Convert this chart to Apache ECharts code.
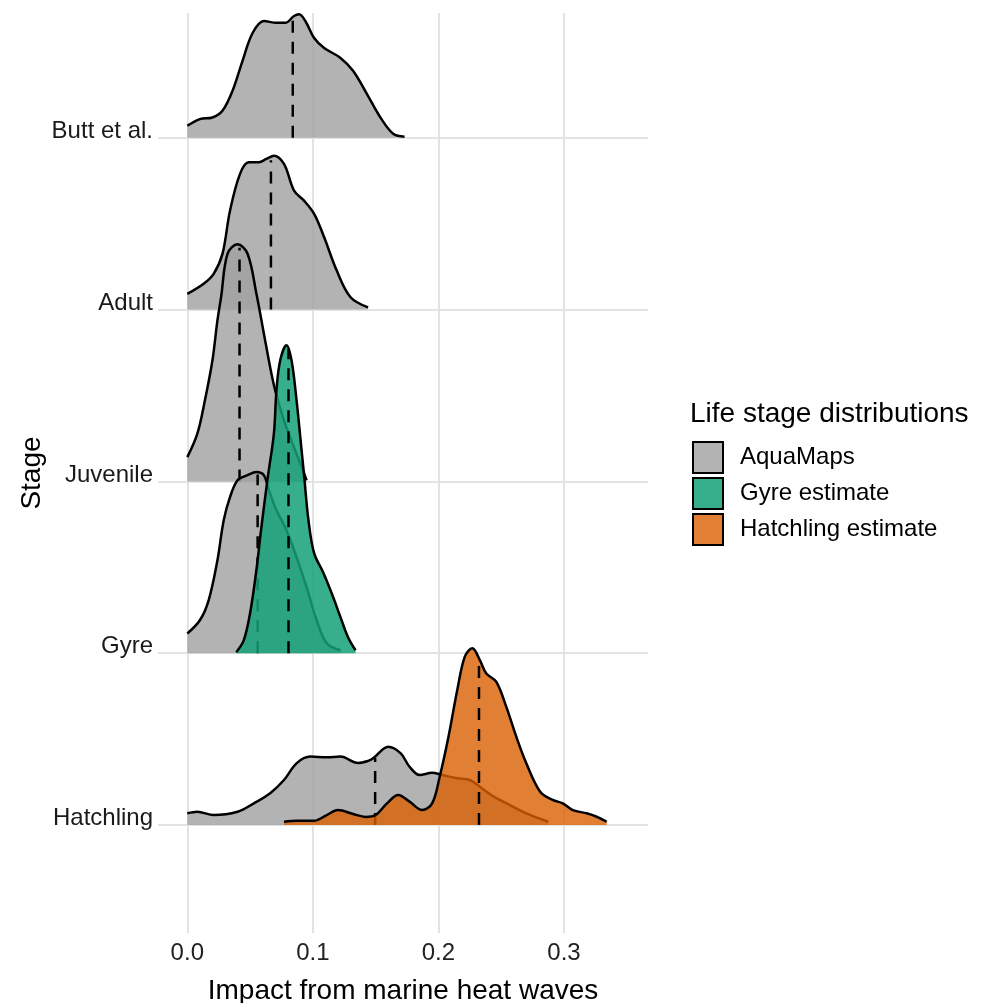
<!DOCTYPE html>
<html><head><meta charset="utf-8">
<script src="https://cdn.jsdelivr.net/npm/echarts@6/dist/echarts.min.js"></script>
<style>html,body{margin:0;padding:0;background:#fff}#c{width:988px;height:1003px}</style>
</head><body><div id="c"></div><script>
// rows (value positions 1..5 on the y axis)
const stages = ['Hatchling', 'Gyre', 'Juvenile', 'Adult', 'Butt et al.'];
const xTicks = [0, 0.1, 0.2, 0.3];
const groups = ['AquaMaps', 'Gyre estimate', 'Hatchling estimate'];

// density heights (in row units)
const buttX = [0, 0.010, 0.020, 0.028, 0.036, 0.044, 0.052, 0.061, 0.071, 0.078, 0.085, 0.089, 0.094, 0.101, 0.109, 0.122, 0.132, 0.143, 0.154, 0.164, 0.173];
const buttH = [0.070, 0.109, 0.118, 0.157, 0.273, 0.448, 0.610, 0.680, 0.669, 0.669, 0.709, 0.719, 0.680, 0.581, 0.523, 0.465, 0.390, 0.256, 0.116, 0.023, 0.006];

const adultX = [0, 0.013, 0.021, 0.028, 0.034, 0.042, 0.049, 0.057, 0.063, 0.069, 0.077, 0.085, 0.093, 0.101, 0.109, 0.119, 0.130, 0.144];
const adultH = [0.091, 0.150, 0.208, 0.324, 0.576, 0.790, 0.857, 0.857, 0.877, 0.896, 0.848, 0.693, 0.634, 0.557, 0.421, 0.227, 0.072, 0.013];

const juvX = [0, 0.008, 0.014, 0.020, 0.024, 0.027, 0.032, 0.040, 0.048, 0.055, 0.061, 0.066, 0.070, 0.077, 0.085, 0.093, 0.095];
const juvH = [0.141, 0.278, 0.471, 0.704, 0.937, 1.077, 1.325, 1.380, 1.325, 1.094, 0.860, 0.664, 0.530, 0.355, 0.198, 0.047, 0.006];

const gyreAqX = [0, 0.010, 0.017, 0.024, 0.029, 0.034, 0.040, 0.048, 0.055, 0.061, 0.065, 0.071, 0.079, 0.087, 0.095, 0.103, 0.111, 0.122];
const gyreAqH = [0.115, 0.192, 0.308, 0.541, 0.774, 0.908, 1.007, 1.036, 1.054, 1.036, 0.949, 0.832, 0.716, 0.559, 0.384, 0.192, 0.058, 0.017];

const gyreEstX = [0.039, 0.045, 0.050, 0.055, 0.059, 0.064, 0.069, 0.071, 0.074, 0.079, 0.083, 0.087, 0.091, 0.093, 0.0965, 0.101, 0.1085, 0.115, 0.122, 0.128, 0.134];
const gyreEstH = [0.006, 0.076, 0.233, 0.483, 0.733, 1.019, 1.281, 1.531, 1.705, 1.793, 1.705, 1.473, 1.182, 1.036, 0.774, 0.582, 0.466, 0.349, 0.210, 0.093, 0.017];

const hatchAqX = [0, 0.008, 0.021, 0.040, 0.053, 0.066, 0.077, 0.087, 0.098, 0.111, 0.122, 0.136, 0.144, 0.148, 0.160, 0.170, 0.177, 0.185, 0.195, 0.203, 0.215, 0.225, 0.233, 0.244, 0.257, 0.270, 0.2875];
const hatchAqH = [0.068, 0.077, 0.058, 0.077, 0.126, 0.185, 0.262, 0.359, 0.398, 0.394, 0.398, 0.361, 0.373, 0.388, 0.456, 0.417, 0.339, 0.291, 0.304, 0.291, 0.272, 0.262, 0.223, 0.165, 0.116, 0.068, 0.019];

const hatchEstX = [0.077, 0.087, 0.101, 0.111, 0.120, 0.132, 0.142, 0.150, 0.159, 0.168, 0.177, 0.187, 0.195, 0.201, 0.208, 0.215, 0.221, 0.227, 0.233, 0.238, 0.246, 0.254, 0.262, 0.270, 0.281, 0.291, 0.299, 0.307, 0.318, 0.326, 0.334];
const hatchEstH = [0.019, 0.025, 0.025, 0.058, 0.087, 0.064, 0.047, 0.058, 0.126, 0.175, 0.136, 0.087, 0.126, 0.281, 0.514, 0.786, 0.980, 1.029, 0.960, 0.883, 0.834, 0.689, 0.514, 0.359, 0.194, 0.146, 0.126, 0.087, 0.068, 0.048, 0.019];

// medians (dashed quantile lines): x position and curve height there
const medianX = [0.084, 0.0666, 0.0416, 0.056, 0.0806, 0.1496, 0.2323];
const medianH = [0.71, 0.87, 1.36, 1.04, 1.77, 0.39, 0.96];

const fills = {
  'AquaMaps': 'rgba(160,160,160,0.8)',
  'Gyre estimate': 'rgba(20,160,120,0.85)',
  'Hatchling estimate': 'rgba(217,95,2,0.8)'
};

const ridges = [
  { group: 'AquaMaps', row: 5, xs: buttX, hs: buttH },
  { group: 'AquaMaps', row: 4, xs: adultX, hs: adultH },
  { group: 'AquaMaps', row: 3, xs: juvX, hs: juvH },
  { group: 'AquaMaps', row: 2, xs: gyreAqX, hs: gyreAqH },
  { group: 'Gyre estimate', row: 2, xs: gyreEstX, hs: gyreEstH },
  { group: 'AquaMaps', row: 1, xs: hatchAqX, hs: hatchAqH },
  { group: 'Hatchling estimate', row: 1, xs: hatchEstX, hs: hatchEstH }
];

const FONT = '"Liberation Sans", Arial, Helvetica, sans-serif';
const series = [];
ridges.forEach((r, i) => {
  series.push({
    type: 'line', name: r.group, z: 10 + 2 * i, silent: true,
    data: r.xs.map((x, k) => [x, r.row + r.hs[k]]),
    smooth: 0.35, symbol: 'none', showSymbol: false,
    lineStyle: { color: '#000', width: 2.5 },
    itemStyle: { color: fills[r.group] },
    areaStyle: { color: fills[r.group], opacity: 1, origin: r.row },
    emphasis: { disabled: true }
  });
  series.push({
    type: 'line', name: 'median-' + i, z: 11 + 2 * i, silent: true,
    data: [[medianX[i], r.row], [medianX[i], r.row + medianH[i]]],
    symbol: 'none', showSymbol: false,
    lineStyle: { color: '#000', width: 2.5, type: [12, 9] },
    emphasis: { disabled: true }
  });
});

// plot area geometry derived from tick spacing
const gridLeft = 158, gridRight = 648, tickPx0 = 187.3, tickPx3 = 564;
const k = (tickPx3 - tickPx0) / 0.3;
const xMin = -(tickPx0 - gridLeft) / k;
const xMax = 0.3 + (gridRight - tickPx3) / k;
const gridTop = 13, gridBottom = 933, row5Px = 137.8, row1Px = 825;
const ky = (row1Px - row5Px) / 4;
const yMin = 1 - (gridBottom - row1Px) / ky;
const yMax = 5 + (row5Px - gridTop) / ky;

const chart = echarts.init(document.getElementById('c'), null, { renderer: 'canvas' });
chart.setOption({
  animation: false,
  backgroundColor: '#fff',
  textStyle: { fontFamily: FONT },
  title: {
    text: 'Life stage distributions', left: 690, top: 400, padding: 0,
    textStyle: { fontFamily: FONT, fontSize: 28, fontWeight: 'normal', color: '#000' }
  },
  legend: {
    data: groups.map(g => ({ name: g, itemStyle: { color: fills[g] } })),
    orient: 'vertical', left: 692, top: 441, icon: 'rect', padding: 0,
    itemWidth: 30, itemHeight: 31, itemGap: 3,
    itemStyle: { borderColor: '#000', borderWidth: 2 },
    selectedMode: false,
    textStyle: { fontFamily: FONT, fontSize: 24, color: '#000', padding: [0, 0, 0, 12] }
  },
  grid: {
    left: gridLeft, right: 988 - gridRight, top: gridTop, bottom: 1003 - gridBottom,
    containLabel: false, outerBoundsMode: 'none'
  },
  xAxis: {
    type: 'value', min: xMin, max: xMax,
    name: 'Impact from marine heat waves', nameLocation: 'middle', nameGap: 44,
    nameTextStyle: { fontFamily: FONT, fontSize: 28, color: '#000' },
    axisLine: { show: false },
    axisTick: { show: false, customValues: xTicks },
    axisLabel: { customValues: xTicks, formatter: v => v.toFixed(1), fontFamily: FONT, fontSize: 24, color: '#222', margin: 8 },
    splitLine: { show: true, lineStyle: { color: '#e3e3e3', width: 2 } }
  },
  yAxis: {
    type: 'value', min: yMin, max: yMax,
    name: 'Stage', nameLocation: 'middle', nameGap: 112, nameRotate: 90,
    nameTextStyle: { fontFamily: FONT, fontSize: 28, color: '#000' },
    axisLine: { show: false },
    axisTick: { show: false, customValues: [1, 2, 3, 4, 5] },
    axisLabel: {
      customValues: [1, 2, 3, 4, 5], formatter: v => stages[Math.round(v) - 1],
      fontFamily: FONT, fontSize: 24, color: '#1a1a1a', margin: 5, verticalAlign: 'bottom', lineHeight: 13
    },
    splitLine: { show: true, lineStyle: { color: '#e3e3e3', width: 2 } }
  },
  series: series
});
</script></body></html>
